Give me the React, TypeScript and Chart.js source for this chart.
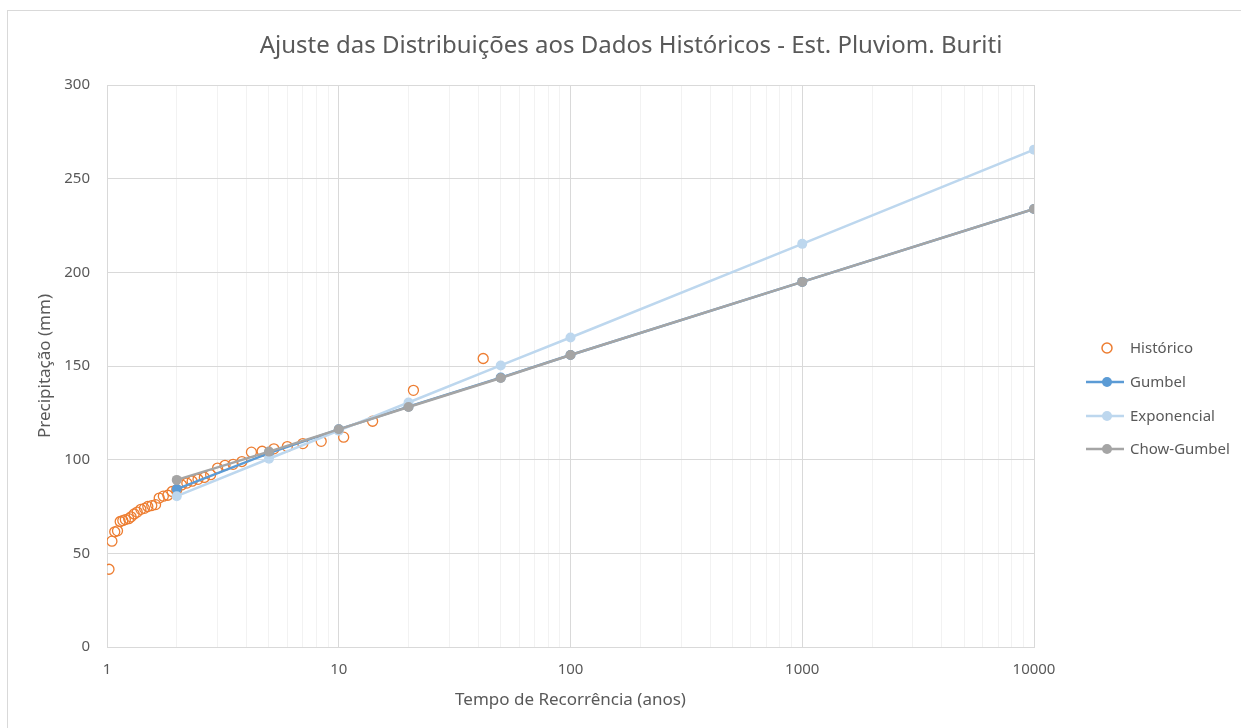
import React, { useEffect, useRef } from "react";
import { Chart, registerables } from "chart.js";

Chart.register(...registerables);

const chartTitle = "Ajuste das Distribuições aos Dados Históricos - Est. Pluviom. Buriti";
const xTitle = "Tempo de Recorrência (anos)";
const yTitle = "Precipitação (mm)";

const returnPeriods = [2, 5, 10, 20, 50, 100, 1000, 10000];
const gumbel = [84.3, 103.5, 116.2, 128.3, 143.8, 155.9, 194.9, 233.8];
const exponencial = [80.5, 100.5, 115.5, 130.5, 150.3, 165.2, 215.2, 265.5];
const chowGumbel = [89.2, 104.3, 116.2, 128.1, 143.6, 155.9, 194.9, 233.8];

const historicoT = [
  42, 21, 14, 10.5, 8.4, 7, 6, 5.25, 4.67, 4.2, 3.82, 3.5, 3.23, 3, 2.8, 2.63, 2.47, 2.33, 2.21, 2.1,
  2, 1.91, 1.83, 1.75, 1.68, 1.62, 1.56, 1.5, 1.45, 1.4, 1.35, 1.31, 1.27, 1.24, 1.2, 1.17, 1.14,
  1.11, 1.08, 1.05, 1.02,
];
const historicoP = [
  154, 137, 120.5, 112, 109.8, 108.6, 107, 105.8, 104.5, 104, 99, 97.5, 97, 95.5, 92, 90.5, 89.5,
  88.5, 87.5, 86.5, 84, 83, 81, 80.5, 79.5, 76, 75.5, 75, 74, 73.5, 72, 71, 69.5, 68.5, 68, 67.5,
  67, 62, 61.5, 56.5, 41.5,
];

const xMajorTicks = [1, 10, 100, 1000, 10000];
const yMin = 0;
const yMax = 300;
const yStep = 50;

const COLORS = {
  historico: "#ED7D31",
  gumbel: "#5B9BD5",
  exponencial: "#BDD7EE",
  chow: "#A5A5A5",
  text: "#595959",
  major: "#D9D9D9",
  minor: "#F2F2F2",
};

const FONT = "'Noto Sans', 'Open Sans', sans-serif";

const overlayPlugin = {
  id: "overlay",
  beforeDraw(chart: any) {
    const ctx = chart.ctx;
    ctx.save();
    ctx.fillStyle = "#ffffff";
    ctx.fillRect(0, 0, chart.width, chart.height);
    ctx.strokeStyle = COLORS.major;
    ctx.lineWidth = 1;
    ctx.strokeRect(7.5, 10.5, 1400, 900);
    ctx.restore();
  },
  afterDraw(chart: any) {
    const ctx = chart.ctx;
    ctx.save();
    // title
    ctx.fillStyle = COLORS.text;
    ctx.font = `24px ${FONT}`;
    ctx.textAlign = "center";
    ctx.textBaseline = "middle";
    ctx.fillText(chartTitle, 631, 46);

    // legend
    const rows = [348, 382, 416, 449];
    const metas = chart.data.datasets;
    ctx.font = `15px ${FONT}`;
    ctx.textAlign = "left";
    metas.forEach((ds: any, i: number) => {
      const y = rows[i];
      if (ds.showLine === false) {
        ctx.beginPath();
        ctx.arc(1107, y, 5, 0, Math.PI * 2);
        ctx.strokeStyle = ds.borderColor;
        ctx.lineWidth = 1.5;
        ctx.stroke();
      } else {
        ctx.beginPath();
        ctx.moveTo(1086, y);
        ctx.lineTo(1124, y);
        ctx.strokeStyle = ds.borderColor;
        ctx.lineWidth = 2.5;
        ctx.stroke();
        ctx.beginPath();
        ctx.arc(1107, y, 5, 0, Math.PI * 2);
        ctx.fillStyle = ds.borderColor;
        ctx.fill();
      }
      ctx.fillStyle = COLORS.text;
      ctx.fillText(ds.label, 1130, y + 1);
    });
    ctx.restore();
  },
};

function toPoints(xs: number[], ys: number[]) {
  return xs.map((x, i) => ({ x, y: ys[i] }));
}

export default function App() {
  const ref = useRef<HTMLCanvasElement | null>(null);

  useEffect(() => {
    if (!ref.current) return;
    const lineDs = (label: string, data: number[], color: string, order: number) => ({
      label,
      data: toPoints(returnPeriods, data),
      borderColor: color,
      backgroundColor: color,
      borderWidth: 2.5,
      pointRadius: 5,
      pointHoverRadius: 5,
      pointBorderWidth: 0,
      pointBackgroundColor: color,
      showLine: true,
      order,
    });

    const chart = new Chart(ref.current, {
      type: "scatter",
      data: {
        datasets: [
          {
            label: "Histórico",
            data: toPoints(historicoT, historicoP),
            borderColor: COLORS.historico,
            backgroundColor: "rgba(0,0,0,0)",
            pointRadius: 5,
            pointBorderWidth: 1.3,
            showLine: false,
            order: 4,
          },
          lineDs("Gumbel", gumbel, COLORS.gumbel, 3),
          lineDs("Exponencial", exponencial, COLORS.exponencial, 2),
          lineDs("Chow-Gumbel", chowGumbel, COLORS.chow, 1),
        ] as any,
      },
      options: {
        responsive: false,
        animation: false,
        devicePixelRatio: 1,
        layout: { padding: { left: 0, right: 207, top: 85, bottom: 0 } },
        plugins: {
          legend: { display: false },
          title: { display: false },
          tooltip: { enabled: false },
        },
        scales: {
          x: {
            type: "logarithmic",
            min: 1,
            max: 10000,
            afterBuildTicks: (axis: any) => {
              const ticks: any[] = [];
              for (let k = 0; k < xMajorTicks.length - 1; k++) {
                for (let m = 1; m <= 9; m++) ticks.push({ value: m * xMajorTicks[k] });
              }
              ticks.push({ value: xMajorTicks[xMajorTicks.length - 1] });
              axis.ticks = ticks;
            },
            afterFit: (axis: any) => {
              axis.height = 81;
            },
            ticks: {
              autoSkip: false,
              maxRotation: 0,
              padding: 14,
              color: COLORS.text,
              font: { family: FONT, size: 15 },
              callback: (v: any) => (xMajorTicks.includes(Number(v)) ? String(v) : ""),
            },
            grid: {
              drawTicks: false,
              color: (c: any) => (c.tick && xMajorTicks.includes(c.tick.value) ? COLORS.major : COLORS.minor),
              lineWidth: 1,
            },
            border: { color: COLORS.major, width: 1 },
            title: {
              display: true,
              text: xTitle,
              color: COLORS.text,
              font: { family: FONT, size: 17 },
              padding: { top: 0, bottom: 18 },
            },
          },
          y: {
            type: "linear",
            min: yMin,
            max: yMax,
            afterFit: (axis: any) => {
              axis.width = 107;
            },
            ticks: {
              stepSize: yStep,
              padding: 17,
              color: COLORS.text,
              font: { family: FONT, size: 15 },
            },
            grid: { drawTicks: false, color: COLORS.major, lineWidth: 1 },
            border: { display: true, color: COLORS.major, width: 1 },
            title: {
              display: true,
              text: yTitle,
              color: COLORS.text,
              font: { family: FONT, size: 17 },
              padding: { top: 35, bottom: 0 },
            },
          },
        },
      },
      plugins: [overlayPlugin],
    });
    return () => chart.destroy();
  }, []);

  return (
    <div
      style={{
        position: "fixed",
        left: 0,
        top: 0,
        width: 1241,
        height: 728,
        background: "#fff",
        overflow: "hidden",
      }}
    >
      <canvas ref={ref} width={1241} height={728} style={{ display: "block" }} />
    </div>
  );
}
